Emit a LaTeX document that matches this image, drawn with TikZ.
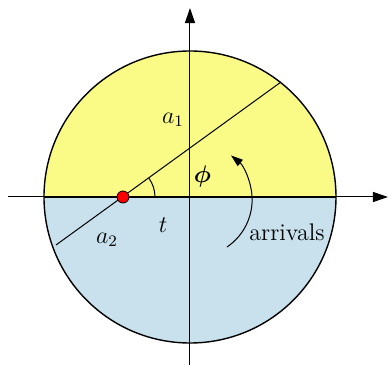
\documentclass[tikz,border=0pt]{standalone}
\usepackage{amsmath}
\usetikzlibrary{arrows.meta}
\definecolor{upperfill}{RGB}{250,250,135}
\definecolor{lowerfill}{RGB}{200,225,236}
\begin{document}
\begin{tikzpicture}[x=0.5pt,y=0.5pt,
  axis/.style={line width=0.5pt,-{Triangle[length=7.5pt,width=5pt]}},
  thinline/.style={line width=0.5pt},
  lbl/.style={inner sep=0pt,font=\large},
  turnarrow/.style={line width=0.5pt,-{Triangle[length=6pt,width=4pt]}}]
\useasboundingbox (-190,-168) rectangle (198,197);
\coordinate (O) at (0,0);
% halves
\fill[upperfill] (146,0) arc[start angle=0,end angle=180,radius=146] -- cycle;
\fill[lowerfill] (-146,0) arc[start angle=180,end angle=360,radius=146] -- cycle;
\draw[line width=0.7pt] (O) circle[radius=146];
% axes
\coordinate (xs) at (-182,0);
\coordinate (xe) at (198,0);
\coordinate (ys) at (0,-168);
\coordinate (ye) at (0,189);
\draw[axis] (xs) -- (xe);
\draw[axis] (ys) -- (ye);
% thick diameter
\coordinate (dl) at (-146,0);
\coordinate (dr) at (146,0);
\draw[line width=1.4pt] (dl) -- (dr);
% chord through the dot
\coordinate (P) at (-67,0);
\coordinate (la) at (91,115);
\coordinate (lb) at (-134,-48);
\draw[thinline] (lb) -- (la);
\draw[thinline] (-35,0) arc[start angle=0,end angle=36,radius=32];
\node[circle,fill=red,draw=black,line width=0.4pt,minimum size=6pt,inner sep=0pt] (dot) at (P) {};
% labels
\node[lbl] (a1) at (-17,77) {$a_1$};
\node[lbl] (a2) at (-83,-43) {$a_2$};
\node[lbl] (t) at (-27,-28) {$t$};
\node[lbl] (phi) at (12.5,20.5) {$\boldsymbol{\phi}$};
\node[lbl] (arr) at (97,-35) {arrivals};
% turning arrow
\coordinate (cs) at (37,-50);
\draw[turnarrow] (cs) arc[start angle=-56,end angle=51,radius=57];
\end{tikzpicture}
\end{document}
